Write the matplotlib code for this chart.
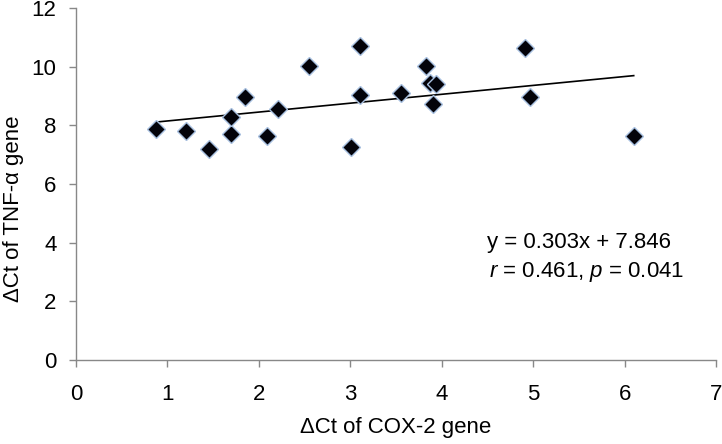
import numpy as np
import matplotlib
matplotlib.use("Agg")
import matplotlib.pyplot as plt

plt.rcParams['font.family'] = ['Liberation Sans', 'DejaVu Sans']
plt.rcParams['mathtext.fontset'] = 'custom'
plt.rcParams['mathtext.rm'] = 'Liberation Sans'
plt.rcParams['mathtext.it'] = 'Liberation Sans:italic'

# delta Ct values
cox2 = [0.88, 1.20, 1.46, 1.70, 1.70, 1.85, 2.09, 2.21, 2.55, 3.01,
        3.11, 3.11, 3.55, 3.83, 3.87, 3.94, 3.91, 4.91, 4.97, 6.10]
tnfa = [7.87, 7.82, 7.20, 7.72, 8.27, 8.95, 7.62, 8.57, 10.01, 7.26,
        10.72, 9.03, 9.10, 10.01, 9.44, 9.42, 8.74, 10.64, 8.95, 7.62]

slope = 0.303
intercept = 7.846
eq_text = "y = 0.303x + 7.846"
stat_text = r"$\it{r}$ = 0.461, $\it{p}$ = 0.041"

fs = 16

fig = plt.figure(figsize=(7.22, 4.44), dpi=100)
ax = fig.add_axes([76 / 722, 84 / 444, 640 / 722, 352 / 444])

# trend line over the data range
xs = np.array([min(cox2), max(cox2)])
ax.plot(xs, slope * xs + intercept, color='black', linewidth=1.2, zorder=2)

ax.plot(cox2, tnfa, linestyle='none', marker='D', markersize=9.5,
        markerfacecolor='#03030a', markeredgecolor='#a8c0e0',
        markeredgewidth=1.0, zorder=3)

ax.set_xlim(0, 7)
ax.set_ylim(0, 12)
ax.set_xticks(range(0, 8))
ax.set_yticks(range(0, 13, 2))

for side in ['top', 'right']:
    ax.spines[side].set_visible(False)
for side in ['left', 'bottom']:
    ax.spines[side].set_color('#888888')
    ax.spines[side].set_linewidth(1.0)

ax.tick_params(axis='both', direction='out', length=5, width=1.0,
               color='#888888', labelsize=fs, labelcolor='black')
ax.tick_params(axis='x', pad=12)
ax.tick_params(axis='y', pad=9)

ax.set_xlabel("ΔCt of COX-2 gene", fontsize=fs)
ax.set_ylabel("ΔCt of TNF-α gene", fontsize=fs)
ax.xaxis.set_label_coords(0.5, -0.163)
ax.yaxis.set_label_coords(-0.082, 0.43)

ax.text(4.49, 4.0, eq_text, fontsize=fs, ha='left', va='center')
ax.text(4.52, 3.0, stat_text, fontsize=fs, ha='left', va='center')

fig.savefig("out.png", dpi=100)
